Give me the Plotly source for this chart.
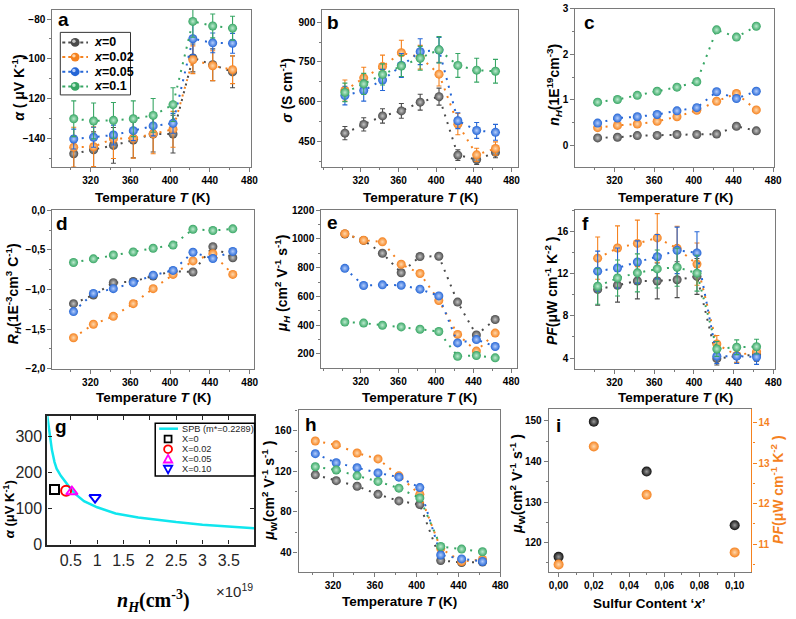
import plotly.graph_objects as go

W, H = 796, 619

# ---------------- data ----------------
T = [303, 323, 343, 363, 383, 403, 423, 443, 463]
series_names = ["x=0", "x=0.02", "x=0.05", "x=0.1"]
series_colors = ["#4b4b4b", "#f5821f", "#2566d6", "#37a664"]
series_centers = ["#c4c4c4", "#ffd8ad", "#b4cdfb", "#bdebcf"]

seebeck = [
    [-147.8, -145.8, -143.6, -140.9, -137.9, -137.9, -99.6, -103.0, -106.6],
    [-144.5, -144.3, -140.2, -140.0, -137.8, -135.5, -100.5, -103.5, -105.5],
    [-140.4, -139.5, -138.4, -136.2, -133.8, -132.5, -89.9, -92.0, -92.2],
    [-130.2, -131.3, -131.0, -130.2, -128.5, -123.1, -81.2, -83.5, -84.6],
]
seebeck_err = [
    [9, 9, 9, 9, 9, 9.5, 7, 8, 8],
    [10, 10, 10, 10, 10, 9, 7, 7.5, 7],
    [5, 5, 5, 5, 5, 5, 8, 5, 5],
    [9, 9, 9, 9, 8.5, 8.5, 8, 6, 6],
]
conductivity = [
    [481, 514, 546, 565, 598, 619, 398, 381, 408],
    [642, 690, 733, 785, 768, 704, 515, 399, 423],
    [623, 642, 682, 737, 789, 795, 528, 491, 484],
    [635, 667, 703, 735, 764, 796, 737, 719, 715],
]
conductivity_err = [
    [25, 25, 27, 28, 30, 32, 20, 18, 20],
    [40, 40, 43, 47, 45, 45, 40, 25, 25],
    [35, 40, 40, 45, 49, 48, 30, 30, 30],
    [35, 40, 40, 40, 45, 50, 45, 45, 45],
]
carrier_n = [
    [0.165, 0.18, 0.215, 0.22, 0.24, 0.24, 0.25, 0.42, 0.32],
    [0.39, 0.44, 0.47, 0.53, 0.63, 0.77, 0.97, 1.14, 0.78],
    [0.49, 0.60, 0.63, 0.68, 0.76, 0.83, 1.18, 1.03, 1.19],
    [0.95, 1.01, 1.10, 1.19, 1.28, 1.40, 2.54, 2.38, 2.62],
]
hall_coeff = [
    [-1.18, -1.07, -0.915, -0.90, -0.83, -0.77, -0.78, -0.46, -0.60],
    [-1.61, -1.44, -1.34, -1.18, -0.99, -0.81, -0.64, -0.55, -0.81],
    [-1.28, -1.05, -0.99, -0.915, -0.82, -0.76, -0.53, -0.61, -0.52],
    [-0.66, -0.614, -0.565, -0.528, -0.48, -0.44, -0.24, -0.256, -0.235],
]
hall_mobility = [
    [1035, 990, 901, 765, 878, 880, 561, 332, 440],
    [1037, 991, 980, 824, 760, 572, 336, 220, 345],
    [796, 676, 681, 678, 651, 604, 277, 300, 252],
    [422, 415, 400, 388, 372, 356, 184, 189, 173],
]
power_factor = [
    [10.5, 10.9, 11.3, 11.3, 11.42, 11.73, 3.94, 4.2, 4.3],
    [13.46, 14.42, 14.86, 15.38, 14.39, 12.9, 5.33, 4.25, 4.6],
    [12.23, 12.53, 13.1, 13.6, 14.2, 13.96, 4.18, 4.18, 4.1],
    [10.8, 11.58, 12.07, 12.44, 12.6, 12.04, 4.86, 5.02, 5.08],
]
power_factor_err = [
    [1.5, 1.6, 1.7, 1.7, 1.7, 1.7, 0.6, 0.6, 0.6],
    [2.0, 2.1, 2.2, 2.3, 2.1, 2.0, 0.8, 0.7, 0.7],
    [1.9, 1.9, 2.0, 2.1, 2.2, 2.0, 0.7, 0.7, 0.7],
    [1.7, 1.7, 1.8, 1.8, 1.8, 1.7, 0.7, 0.7, 0.7],
]
weighted_mobility = [
    [116.6, 110.8, 105.3, 97.3, 90.8, 87.3, 32.0, 30.0, 30.5],
    [150.0, 146.2, 138.1, 132.3, 115.6, 97.3, 43.8, 31.0, 33.0],
    [137.5, 128.5, 123.6, 118.5, 114.3, 104.0, 37.4, 33.5, 31.0],
    [124.6, 121.4, 115.6, 110.1, 103.4, 93.7, 45.8, 43.2, 40.6],
]

# panel g (SPB model)
spb_n = [0.05, 0.08, 0.11, 0.14, 0.19, 0.23, 0.31, 0.41, 0.52, 0.6, 0.75, 1.0,
         1.35, 1.78, 2.0, 2.5, 3.0, 3.5, 3.98]
spb_alpha = [359, 323, 296, 262, 228, 210, 190, 170, 150, 138, 120, 103,
             86, 75, 71, 62, 55, 49, 45]
g_names = ["X=0", "X=0.02", "X=0.05", "X=0.10"]
g_n = [0.19, 0.41, 0.52, 0.96]
g_alpha = [152, 149, 146, 130]
g_symbols = ["square-open", "circle-open", "triangle-up-open", "triangle-down-open"]
g_colors = ["#000000", "#ff0000", "#ff00ff", "#0000ff"]

# panel i
sulfur_x = [0.0, 0.02, 0.05, 0.10]
muW_303 = [116.5, 149.8, 137.5, 124.3]
PF_303 = [10.5, 13.41, 12.22, 10.8]

# ---------------- helpers ----------------
def px(x):
    return x / W


def py(y):
    return 1 - y / H


def dom_x(a, b):
    return [a / W, b / W]


def dom_y(top, bottom):
    return [1 - bottom / H, 1 - top / H]


GRAY = "#7a7a7a"
FONT = "Liberation Sans, Arial, sans-serif"
TICKFONT = dict(family=FONT, size=10, color="#000000", weight="bold")

fig = go.Figure()
layout = dict(
    width=W, height=H, margin=dict(l=0, r=0, t=0, b=0),
    paper_bgcolor="white", plot_bgcolor="white", showlegend=False,
    separators=",.",
)
annotations = []
shapes = []


def ax_names(n):
    return ("x" if n == 1 else f"x{n}"), ("y" if n == 1 else f"y{n}")


def origin_axes(n, xd, yd, xr, yr, ytv, yminor, xtv=None, xminor=20, yfmt=None, xfmt=None):
    xk = "xaxis" if n == 1 else f"xaxis{n}"
    yk = "yaxis" if n == 1 else f"yaxis{n}"
    xa, ya = ax_names(n)
    if xtv is None:
        xtv = [320, 360, 400, 440, 480]
    layout[xk] = dict(
        domain=dom_x(*xd), range=list(xr), anchor=ya, showline=True, mirror=True,
        linecolor=GRAY, linewidth=1.2, ticks="outside", ticklen=4, tickwidth=1,
        tickcolor=GRAY, tickmode="array", tickvals=xtv, tickfont=TICKFONT,
        showgrid=False, zeroline=False,
        minor=dict(ticks="outside", ticklen=2, tickcolor=GRAY, dtick=xminor,
                   tick0=xtv[0], showgrid=False),
    )
    if xfmt:
        layout[xk]["tickformat"] = xfmt
    layout[yk] = dict(
        domain=dom_y(*yd), range=list(yr), anchor=xa, showline=True, mirror=True,
        linecolor=GRAY, linewidth=1.2, ticks="outside", ticklen=4, tickwidth=1,
        tickcolor=GRAY, tickmode="array", tickvals=ytv, tickfont=TICKFONT,
        showgrid=False, zeroline=False,
        minor=dict(ticks="outside", ticklen=2, tickcolor=GRAY, dtick=yminor,
                   tick0=ytv[0], showgrid=False),
    )
    if yfmt:
        layout[yk]["tickformat"] = yfmt


def add_series(n, ys, errs=None):
    xa, ya = ax_names(n)
    for k in range(4):
        err = None
        if errs is not None:
            err = dict(type="data", array=errs[k], color=series_colors[k],
                       thickness=1.1, width=2.5)
        fig.add_trace(go.Scatter(
            x=T, y=ys[k], xaxis=xa, yaxis=ya, mode="lines+markers",
            name=series_names[k],
            line=dict(color=series_colors[k], width=2, dash="2px,6px"),
            marker=dict(size=9, color=series_colors[k],
                        gradient=dict(type="radial", color=series_centers[k]),
                        line=dict(width=0)),
            error_y=err, showlegend=False,
        ))


def text(x, y, s, size=13.5, angle=0, color="#000000", anchor="center", family=FONT):
    annotations.append(dict(
        x=px(x), y=py(y), xref="paper", yref="paper", text=s, showarrow=False,
        xanchor=anchor, yanchor="middle", textangle=angle,
        font=dict(family=family, size=size, color=color),
    ))


XT = "<b>Temperature <i>T</i> (K)</b>"

# ---------------- panel a ----------------
origin_axes(1, (53, 254), (5, 166), (281.5, 481.7), (-154.6, -75.4), [-140, -120, -100, -80], 10)
add_series(1, seebeck, seebeck_err)
text(154, 197, XT)
text(18, 85, "<b><i>α</i> ( μV K<sup>-1</sup>)</b>", size=14, angle=-90)
text(64, 15, "<b>a</b>", size=19)

# ---------------- panel b ----------------
origin_axes(2, (326, 524), (5, 166), (279, 487), (352, 947), [450, 600, 750, 900], 75)
add_series(2, conductivity, conductivity_err)
text(425, 197, XT)
text(289, 87, "<b><i>σ</i> (S cm<sup>-1</sup>)</b>", size=14, angle=-90)
text(337, 18, "<b>b</b>", size=19)

# ---------------- panel c ----------------
origin_axes(3, (582, 783), (4, 166), (280.6, 481), (-0.48, 3), [0, 1, 2, 3], 0.5)
add_series(3, carrier_n)
text(683, 197, XT)
text(561, 82, "<b><i>n<sub>H</sub></i>(1E<sup>19</sup>cm<sup>-3</sup>)</b>", size=14, angle=-90)
text(596, 18, "<b>c</b>", size=19)

# ---------------- panel d ----------------
origin_axes(4, (53, 257), (210, 372), (281.8, 484.4), (-2, 0), [-2, -1.5, -1, -0.5, 0], 0.25, yfmt=".1f")
add_series(4, hall_coeff)
text(155, 402, XT)
text(14, 295, "<b><i>R<sub>H</sub></i>(1E<sup>-3</sup>cm<sup>3</sup> C<sup>-1</sup>)</b>", size=14, angle=-90)
text(63, 224, "<b>d</b>", size=19)

# ---------------- panel e ----------------
origin_axes(5, (325, 523), (210, 371), (278, 486.3), (105, 1200), [200, 400, 600, 800, 1000, 1200], 100)
add_series(5, hall_mobility)
text(424, 402, XT)
text(285, 285, "<b><i>μ<sub>H</sub></i> (cm<sup>2</sup> V<sup>-1</sup> s<sup>-1</sup>)</b>", size=14, angle=-90)
text(336, 223, "<b>e</b>", size=19)

# ---------------- panel f ----------------
origin_axes(6, (582, 784), (210, 372), (280.6, 481.7), (3, 18), [4, 8, 12, 16], 2)
add_series(6, power_factor, power_factor_err)
text(683, 402, XT)
text(558, 293, "<b><i>PF</i>(μW cm<sup>-1</sup> K<sup>-2</sup> )</b>", size=14, angle=-90)
text(592, 224, "<b>f</b>", size=19)

# ---------------- panel h ----------------
origin_axes(8, (302, 506), (414, 580), (287, 480), (20.7, 181), [40, 80, 120, 160], 20)
add_series(8, weighted_mobility)
text(404, 610, XT)
text(272, 497, "<b><i>μ</i><sub>W</sub>(cm<sup>2</sup> V<sup>-1</sup> s<sup>-1</sup> )</b>", size=14, angle=-90)
text(315, 429, "<b>h</b>", size=19)

# ---------------- panel i ----------------
origin_axes(9, (555, 760), (413, 580), (-0.0056, 0.1095), (112.8, 153), [120, 130, 140, 150], 5,
            xtv=[0, 0.02, 0.04, 0.06, 0.08, 0.10], xminor=0.01, xfmt=".2f")
layout["yaxis9"]["mirror"] = False
ORANGE = "#f5821f"
layout["yaxis10"] = dict(
    domain=dom_y(413, 580), range=[10.32, 14.34], overlaying="y9", side="right",
    anchor="x9", showline=True, linecolor=ORANGE, linewidth=1.2, ticks="outside",
    ticklen=4, tickcolor=ORANGE, tickmode="array", tickvals=[11, 12, 13, 14],
    tickfont=dict(family=FONT, size=10, color=ORANGE, weight="bold"),
    showgrid=False, zeroline=False,
    minor=dict(ticks="outside", ticklen=2, tickcolor=ORANGE, dtick=0.5, tick0=11, showgrid=False),
)
fig.add_trace(go.Scatter(
    x=sulfur_x, y=muW_303, xaxis="x9", yaxis="y9", mode="markers",
    marker=dict(size=10, color="#111111", gradient=dict(type="radial", color="#9a9a9a"), line=dict(width=0)),
))
fig.add_trace(go.Scatter(
    x=sulfur_x, y=PF_303, xaxis="x9", yaxis="y10", mode="markers",
    marker=dict(size=10, color=ORANGE, gradient=dict(type="radial", color="#ffd8ad"), line=dict(width=0)),
))
text(657, 612, "<b>Sulfur Content ‘<i>x</i>’</b>")
text(523, 490, "<b><i>μ</i><sub>W</sub>(cm<sup>2</sup> V<sup>-1</sup> s<sup>-1</sup> )</b>", size=14, angle=-90)
text(786, 496, "<b><i>PF</i>(μW cm<sup>-1</sup> K<sup>-2</sup> )</b>", size=14, angle=-90, color=ORANGE)
text(565, 430, "<b>i</b>", size=19)

# ---------------- panel g (MATLAB style) ----------------
GFONT = dict(family=FONT, size=16, color="#262626")
layout["xaxis7"] = dict(
    domain=dom_x(48, 257), range=[0.056, 3.98], anchor="y7", showline=True, mirror="ticks",
    linecolor="#262626", linewidth=2.2, ticks="inside", ticklen=4, tickcolor="#262626",
    tickmode="array", tickvals=[0.5, 1, 1.5, 2, 2.5, 3, 3.5],
    ticktext=["0.5", "1", "1.5", "2", "2.5", "3", "3.5"], tickfont=GFONT,
    showgrid=False, zeroline=False,
)
layout["yaxis7"] = dict(
    domain=dom_y(420, 552), range=[0, 357], anchor="x7", showline=True, mirror="ticks",
    linecolor="#262626", linewidth=2.2, ticks="inside", ticklen=4, tickcolor="#262626",
    tickmode="array", tickvals=[0, 100, 200, 300], tickfont=GFONT,
    showgrid=False, zeroline=False,
)
fig.add_trace(go.Scatter(
    x=spb_n, y=spb_alpha, xaxis="x7", yaxis="y7", mode="lines",
    line=dict(color="#10e6ee", width=2.5), name="SPB (m*=0.2289)",
))
for k in range(4):
    fig.add_trace(go.Scatter(
        x=[g_n[k]], y=[g_alpha[k]], xaxis="x7", yaxis="y7", mode="markers",
        name=g_names[k],
        marker=dict(symbol=g_symbols[k], size=10 if k else 9, color=g_colors[k],
                    line=dict(width=2, color=g_colors[k])),
    ))
text(62, 431, "<b>g</b>", size=19)
text(9, 516, "<b><i>α</i> (μV K<sup>-1</sup>)</b>", size=13, angle=-90)
text(155, 610, "<b><i>n<sub>H</sub></i>(cm<sup>-3</sup>)</b>", size=20,
     family="Liberation Serif, Times New Roman, serif")
text(237, 599, "×10<sup>19</sup>", size=15, color="#262626")

# legend g (drawn manually)
shapes.append(dict(type="rect", xref="paper", yref="paper", x0=px(157), x1=px(257.5),
                   y0=py(482), y1=py(428), line=dict(color="#000", width=1.5), fillcolor="white"))
shapes.append(dict(type="line", xref="paper", yref="paper", x0=px(161), x1=px(180),
                   y0=py(433.5), y1=py(433.5), line=dict(color="#10e6ee", width=2.5)))
gy = [444, 454.5, 464.5, 475]
gx = 170
shapes.append(dict(type="rect", xref="paper", yref="paper", x0=px(gx - 3.5), x1=px(gx + 3.5),
                   y0=py(gy[0] + 3.5), y1=py(gy[0] - 3.5), line=dict(color="#000", width=1.8)))
shapes.append(dict(type="circle", xref="paper", yref="paper", x0=px(gx - 4), x1=px(gx + 4),
                   y0=py(gy[1] + 4), y1=py(gy[1] - 4), line=dict(color="#ff0000", width=1.8)))


def tri(cx, cy, up, col):
    s = 4.2
    if up:
        pts = [(cx - s, cy + 3.6), (cx + s, cy + 3.6), (cx, cy - 4.2)]
    else:
        pts = [(cx - s, cy - 3.6), (cx + s, cy - 3.6), (cx, cy + 4.2)]
    path = "M " + " L ".join(f"{px(a):.5f},{py(b):.5f}" for a, b in pts) + " Z"
    shapes.append(dict(type="path", xref="paper", yref="paper", path=path,
                       line=dict(color=col, width=1.8)))


tri(gx, gy[2], True, "#ff00ff")
tri(gx, gy[3], False, "#0000ff")
legend_g_text = ["SPB (m*=0.2289)"] + g_names
legend_g_y = [433.5] + gy
for j, s in enumerate(legend_g_text):
    text(182, legend_g_y[j], s, size=9.2, anchor="left", color="#262626")

# legend a (drawn manually)
shapes.append(dict(type="rect", xref="paper", yref="paper", x0=px(61), x1=px(132),
                   y0=py(92), y1=py(28), line=dict(color="#333333", width=1), fillcolor="white"))
ay = [38.3, 53.3, 68.3, 83.3]
for k in range(4):
    shapes.append(dict(type="line", xref="paper", yref="paper", x0=px(63), x1=px(89),
                       y0=py(ay[k]), y1=py(ay[k]),
                       line=dict(color=series_colors[k], width=2, dash="dot")))
    shapes.append(dict(type="circle", xref="paper", yref="paper", x0=px(71.5), x1=px(80.5),
                       y0=py(ay[k] + 4.5), y1=py(ay[k] - 4.5),
                       fillcolor=series_colors[k], line=dict(width=0)))
    shapes.append(dict(type="circle", xref="paper", yref="paper", x0=px(73), x1=px(76.5),
                       y0=py(ay[k] + 0.5), y1=py(ay[k] - 3),
                       fillcolor=series_centers[k], line=dict(width=0)))
    lab = series_names[k].replace("x", "<i>x</i>")
    text(93, ay[k], f"<b>{lab}</b>", size=12.5, anchor="left")

layout["annotations"] = annotations
layout["shapes"] = shapes
fig.update_layout(**layout)
fig.write_html("out.html")
